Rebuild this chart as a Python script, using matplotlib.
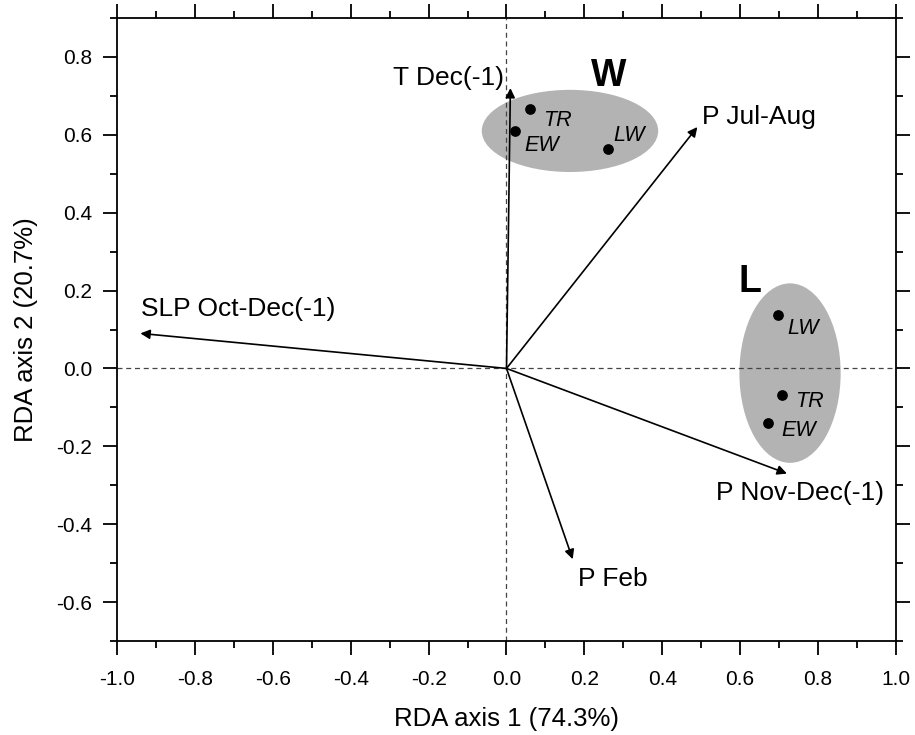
import matplotlib
matplotlib.use("Agg")
import matplotlib.pyplot as plt
from matplotlib.patches import Ellipse
from matplotlib.ticker import MultipleLocator

plt.rcParams['font.family'] = ['Liberation Sans', 'DejaVu Sans']

# environmental vectors (arrow tips)
var_names = ["T Dec(-1)", "P Jul-Aug", "SLP Oct-Dec(-1)", "P Nov-Dec(-1)", "P Feb"]
var_x = [0.01, 0.49, -0.94, 0.72, 0.17]
var_y = [0.72, 0.62, 0.09, -0.27, -0.49]

# site scores
w_names = ["TR", "EW", "LW"]
w_x = [0.060, 0.023, 0.260]
w_y = [0.666, 0.609, 0.564]
l_names = ["LW", "TR", "EW"]
l_x = [0.698, 0.708, 0.671]
l_y = [0.137, -0.069, -0.140]

# group ellipses: center x, center y, width, height
w_ell = [0.163, 0.610, 0.453, 0.211]
l_ell = [0.728, -0.012, 0.260, 0.461]

fig = plt.figure(figsize=(9.15, 7.35), dpi=100)
ax = fig.add_axes([0.1279, 0.1279, 0.8513, 0.8476])

# grey ellipses behind everything
for e in (w_ell, l_ell):
    ax.add_patch(Ellipse((e[0], e[1]), e[2], e[3], facecolor='#b3b3b3', edgecolor='none', zorder=1))

ax.axhline(0, color='#444444', linestyle=(0, (4, 3)), linewidth=0.9, zorder=2)
ax.axvline(0, color='#444444', linestyle=(0, (4, 3)), linewidth=0.9, zorder=2)

for vx, vy in zip(var_x, var_y):
    ax.annotate("", xy=(vx, vy), xytext=(0, 0),
                arrowprops=dict(arrowstyle='-|>', color='black', lw=1.2,
                                mutation_scale=14, shrinkA=0, shrinkB=0), zorder=3)

ax.scatter(w_x + l_x, w_y + l_y, s=45, color='black', zorder=4)

# arrow labels (baseline placed)
fs = 19
ax.text(-0.006, 0.728, var_names[0], ha='right', va='baseline', fontsize=fs)
ax.text(0.503, 0.628, var_names[1], ha='left', va='baseline', fontsize=fs)
ax.text(-0.939, 0.135, var_names[2], ha='left', va='baseline', fontsize=fs)
ax.text(0.538, -0.337, var_names[3], ha='left', va='baseline', fontsize=fs)
ax.text(0.184, -0.558, var_names[4], ha='left', va='baseline', fontsize=fs)

# point labels
pfs = 15.5
ax.text(0.094, 0.622, w_names[0], ha='left', va='baseline', fontsize=pfs, style='italic')
ax.text(0.047, 0.559, w_names[1], ha='left', va='baseline', fontsize=pfs, style='italic')
ax.text(0.274, 0.585, w_names[2], ha='left', va='baseline', fontsize=pfs, style='italic')
ax.text(0.722, 0.0875, l_names[0], ha='left', va='baseline', fontsize=pfs, style='italic')
ax.text(0.741, -0.0986, l_names[1], ha='left', va='baseline', fontsize=pfs, style='italic')
ax.text(0.705, -0.174, l_names[2], ha='left', va='baseline', fontsize=pfs, style='italic')

ax.text(0.263, 0.725, "W", ha='center', va='baseline', fontsize=27, fontweight='bold')
ax.text(0.625, 0.196, "L", ha='center', va='baseline', fontsize=27, fontweight='bold')

ax.set_xlim(-1.0, 1.0)
ax.set_ylim(-0.7, 0.9)
ax.xaxis.set_major_locator(MultipleLocator(0.2))
ax.xaxis.set_minor_locator(MultipleLocator(0.1))
ax.yaxis.set_major_locator(MultipleLocator(0.2))
ax.yaxis.set_minor_locator(MultipleLocator(0.1))
ax.xaxis.set_major_formatter(lambda v, p: f"{v:.1f}".replace("-0.0", "0.0"))
ax.yaxis.set_major_formatter(lambda v, p: f"{v:.1f}".replace("-0.0", "0.0"))
ax.tick_params(which='both', direction='out', top=True, right=True, labelsize=15, width=1.3)
ax.tick_params(which='major', length=10)
ax.tick_params(which='minor', length=5)
ax.tick_params(axis='x', which='major', pad=11)
ax.tick_params(axis='y', which='major', pad=8)
for s in ax.spines.values():
    s.set_linewidth(1.3)

# axis titles placed in figure pixels
fig.text(0.5 * (0.1279 + 0.9792), 1 - 726 / 735, "RDA axis 1 (74.3%)",
         ha='center', va='baseline', fontsize=18.5)
fig.text(33 / 915, 1 - 329.5 / 735, "RDA axis 2 (20.7%)", rotation=90,
         rotation_mode='anchor', ha='center', va='baseline', fontsize=18.5)

fig.savefig("out.png", dpi=100)
